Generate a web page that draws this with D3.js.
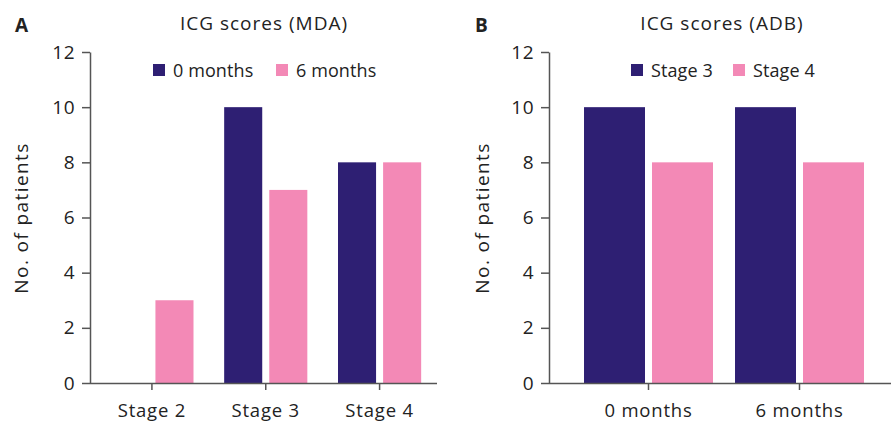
<!DOCTYPE html>
<html>
<head>
<meta charset="utf-8">
<script src="https://cdn.jsdelivr.net/npm/d3@7"></script>
<style>
  body { margin: 0; background: #fff; }
  svg text { font-family: "Open Sans", sans-serif; fill: #222; }
</style>
</head>
<body>
<div id="chart"></div>
<script>
// panel A: ICG scores (MDA)
var stagesA = ["Stage 2", "Stage 3", "Stage 4"];
var seriesA = ["0 months", "6 months"];
var mda0 = [0, 10, 8];
var mda6 = [3, 7, 8];
// panel B: ICG scores (ADB)
var timesB = ["0 months", "6 months"];
var seriesB = ["Stage 3", "Stage 4"];
var adbStage3 = [10, 10];
var adbStage4 = [8, 8];
var yTicks = [0, 2, 4, 6, 8, 10, 12];

var colors = ["#2e1f73", "#f389b6"];
var width = 891, height = 421;

var svg = d3.select("#chart").append("svg")
	.attr("width", width)
	.attr("height", height);

function drawPanel(opt) {
	var g = svg.append("g");
	var y = d3.scaleLinear().domain([0, 12]).range([383, 52]);
	var x = d3.scaleBand().domain(opt.cats).range(opt.xRange).padding(0);
	var sub = d3.scaleBand().domain(opt.series).range([0, x.bandwidth()])
		.paddingInner(opt.pi).paddingOuter(opt.po);

	// y axis
	var ya = g.append("g")
		.attr("transform", "translate(" + opt.axisX + ",0)")
		.call(d3.axisLeft(y).tickValues(yTicks).tickSize(8).tickSizeOuter(0).tickPadding(7));
	ya.selectAll("text").style("font-size", "19px").style("letter-spacing", "0.5px");

	// bars
	var rows = [];
	opt.cats.forEach(function(c, i) {
		opt.series.forEach(function(s, j) {
			rows.push({ cat: c, ser: s, val: opt.values[j][i], idx: j });
		});
	});
	g.selectAll(".bar")
		.data(rows.filter(function(d) { return d.val > 0; }))
		.enter()
		.append("rect")
		.attr("class", "bar")
		.attr("x", function(d) { return x(d.cat) + sub(d.ser); })
		.attr("y", function(d) { return y(d.val); })
		.attr("width", sub.bandwidth())
		.attr("height", function(d) { return y(0) - y(d.val); })
		.style("fill", function(d) { return colors[d.idx]; });

	// x axis
	var xa = g.append("g")
		.attr("transform", "translate(0," + y(0) + ")")
		.call(d3.axisBottom(x).tickSize(7).tickSizeOuter(0).tickPadding(14));
	xa.select(".domain").attr("d", "M" + opt.axisX + ",0.5H" + opt.axisEnd);
	xa.selectAll("text").style("font-size", "18.5px").style("letter-spacing", "0.8px");

	g.selectAll(".domain, .tick line").style("stroke", "#555").style("stroke-width", 1.5);

	// y label
	g.append("text")
		.attr("transform", "translate(" + opt.yLabelX + "," + 218 + ") rotate(-90)")
		.attr("text-anchor", "middle")
		.style("font-size", "19px")
		.style("letter-spacing", "1.4px")
		.text("No. of patients");

	// title
	g.append("text")
		.attr("x", opt.titleX)
		.attr("y", 30)
		.attr("text-anchor", "middle")
		.style("font-size", "19px")
		.style("letter-spacing", "1px")
		.text(opt.title);

	// panel letter
	g.append("text")
		.attr("x", opt.letterX)
		.attr("y", 31.5)
		.style("font-size", "19px")
		.style("font-weight", "bold")
		.style("letter-spacing", "0")
		.text(opt.letter);

	// legend
	opt.series.forEach(function(s, j) {
		var lx = opt.legendX[j];
		g.append("rect")
			.attr("x", lx).attr("y", 64)
			.attr("width", 12).attr("height", 12)
			.style("fill", colors[j]);
		g.append("text")
			.attr("x", lx + 20).attr("y", 77)
			.style("font-size", "18px")
			.style("letter-spacing", "0.1px")
			.text(s);
	});
}

drawPanel({
	cats: stagesA, series: seriesA, values: [mda0, mda6],
	xRange: [95, 436.5], pi: 0.156, po: 0.34,
	axisX: 90, axisEnd: 437,
	yLabelX: 28, titleX: 264, title: "ICG scores (MDA)",
	letterX: 15, letter: "A", legendX: [153, 276]
});

drawPanel({
	cats: timesB, series: seriesB, values: [adbStage3, adbStage4],
	xRange: [573, 875], pi: 0.103, po: 0.162,
	axisX: 549, axisEnd: 891,
	yLabelX: 489, titleX: 722, title: "ICG scores (ADB)",
	letterX: 475, letter: "B", legendX: [631, 733]
});
</script>
</body>
</html>
